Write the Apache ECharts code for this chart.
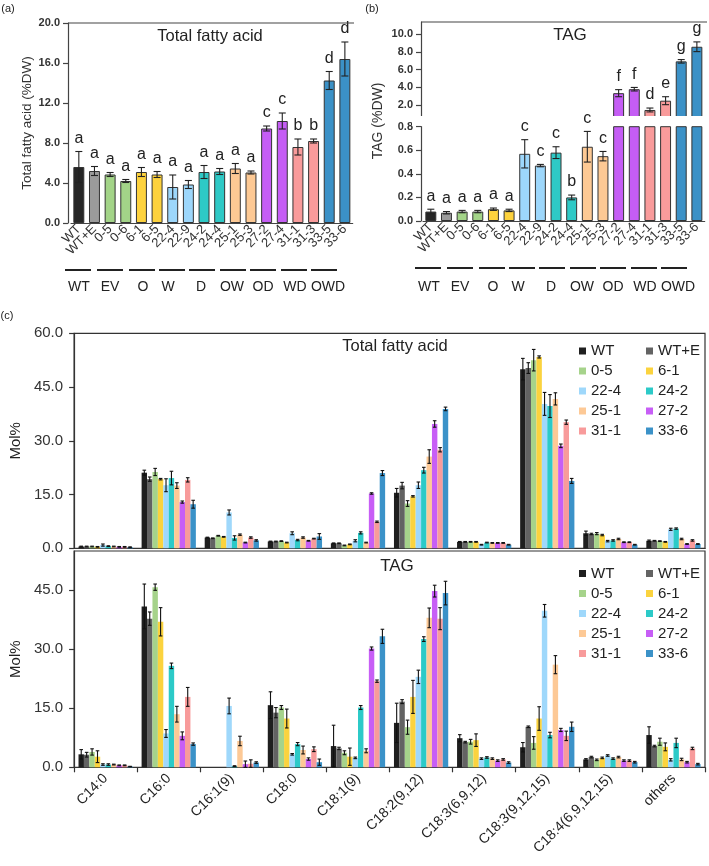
<!DOCTYPE html>
<html><head><meta charset="utf-8">
<script src="https://cdn.jsdelivr.net/npm/echarts@6/dist/echarts.min.js"></script>
<style>html,body{margin:0;padding:0;background:#fff}#c{width:709px;height:866px}</style>
</head><body><div id="c"></div>
<script>
// ---------------- DATA ----------------
const lineNames = ['WT','WT+E','0-5','0-6','6-1','6-5','22-4','22-9','24-2','24-4','25-1','25-3','27-2','27-4','31-1','31-3','33-5','33-6'];
const groupNames = ['WT','EV','O','W','D','OW','OD','WD','OWD'];
const tfaDW      = [5.6,5.2,4.85,4.2,5.1,4.85,3.6,3.85,5.1,5.15,5.45,5.05,9.45,10.2,7.6,8.2,14.25,16.4];
const tfaDWErr   = [1.55,0.45,0.2,0.15,0.45,0.3,1.2,0.4,0.65,0.3,0.5,0.15,0.25,0.8,0.8,0.2,0.9,1.7];
const tfaLetters = ['a','a','a','a','a','a','a','a','a','a','a','a','c','c','b','b','d','d'];
const tagDW      = [0.08,0.07,0.08,0.08,0.10,0.09,0.57,0.47,0.58,0.20,0.63,0.55,3.35,3.8,1.45,2.5,6.95,8.6];
const tagDWErr   = [0.02,0.01,0.01,0.01,0.01,0.01,0.12,0.01,0.05,0.02,0.13,0.04,0.4,0.2,0.22,0.45,0.2,0.55];
const tagLetters = ['a','a','a','a','a','a','c','c','c','b','c','c','f','f','d','e','g','g'];
const tfaDWTicks = [0,4,8,12,16,20];
const tagTopTicks = [2,4,6,8,10];
const tagBottomTicks = [0,0.2,0.4,0.6,0.8];

const acids = ['C14:0','C16:0','C16:1(9)','C18:0','C18:1(9)','C18:2(9,12)','C18:3(6,9,12)','C18:3(9,12,15)','C18:4(6,9,12,15)','others'];
const molLines = ['WT','WT+E','0-5','6-1','22-4','24-2','25-1','27-2','31-1','33-6'];
const molTicks = [0,15,30,45,60];
// rows: acids, columns: molLines
const tfaMol = [
 [0.5,0.5,0.5,0.4,0.9,0.6,0.5,0.4,0.4,0.3],
 [21.1,19.3,21.3,19.3,17.6,19.6,17.5,12.9,19.1,12.3],
 [3.0,2.8,3.5,3.2,10.0,2.9,3.8,1.6,3.0,2.2],
 [1.9,1.9,2.0,1.6,4.2,2.3,3.0,2.1,2.7,3.3],
 [1.4,1.4,0.8,1.1,2.1,4.3,1.6,15.3,7.4,21.0],
 [15.5,17.5,12.5,14.5,17.6,21.8,25.6,34.7,27.5,38.9],
 [1.8,1.8,1.8,1.8,1.0,1.6,1.5,1.5,1.5,1.0],
 [50.0,50.3,52.5,53.4,40.3,39.7,41.7,28.6,35.2,18.8],
 [4.2,4.0,4.1,3.7,2.0,2.2,2.6,1.7,1.7,1.0],
 [2.1,2.1,2.0,1.8,5.3,5.5,2.6,1.2,2.2,1.2]
];
const tfaMolErr = [
 [0.1,0.1,0.1,0.1,0.3,0.1,0.1,0.1,0.1,0.1],
 [0.7,0.6,1.0,0.2,1.8,1.9,0.8,0.3,0.6,1.1],
 [0.1,0.1,0.1,0.1,0.7,0.6,0.2,0.1,0.2,0.2],
 [0.1,0.1,0.1,0.1,0.4,0.2,0.2,0.1,0.1,0.8],
 [0.1,0.1,0.1,0.1,0.3,0.3,0.1,0.2,0.2,0.7],
 [1.2,0.9,0.8,0.2,0.9,0.8,1.9,0.9,0.6,0.5],
 [0.1,0.1,0.1,0.1,0.1,0.1,0.1,0.1,0.1,0.1],
 [3.0,1.5,3.0,0.3,3.2,3.2,1.7,0.5,0.6,0.7],
 [0.6,0.2,0.3,0.2,0.2,0.2,0.2,0.1,0.1,0.1],
 [0.2,0.1,0.1,0.1,0.3,0.2,0.2,0.1,0.2,0.1]
];
const tagMol = [
 [3.3,3.2,3.9,2.7,0.7,0.7,0.7,0.5,0.5,0.2],
 [40.9,37.8,45.8,37.0,8.6,25.8,13.5,8.0,17.9,5.9],
 [0,0,0,0,15.6,0.3,6.7,0.8,0.9,1.2],
 [15.8,13.9,15.2,12.4,3.3,5.9,4.4,2.1,4.6,1.3],
 [5.4,4.8,3.7,2.7,2.4,15.2,4.2,30.2,21.9,33.3],
 [11.3,16.7,10.2,17.9,23.0,32.6,38.0,44.8,37.8,44.3],
 [7.4,6.4,6.5,6.9,2.2,2.5,2.2,1.7,2.0,1.2],
 [5.1,10.3,6.2,12.4,39.8,8.2,26.1,9.5,8.0,10.3],
 [2.0,2.6,1.9,2.4,3.0,2.2,2.6,1.7,1.7,1.3],
 [8.2,5.4,6.5,5.2,1.9,6.2,2.0,1.3,4.8,0.8]
];
const tagMolErr = [
 [1.2,0.6,0.8,1.5,0.2,0.2,0.1,0.1,0.1,0.05],
 [5.7,1.7,0.8,3.6,1.0,0.7,2.0,1.0,2.4,0.3],
 [0,0,0,0,2.0,0.1,1.2,0.8,1.0,0.2],
 [3.4,1.3,0.5,2.4,0.2,0.4,1.0,0.3,0.6,0.8],
 [5.3,0.3,0.5,2.2,0.2,0.5,0.5,0.4,0.3,1.8],
 [5.0,0.5,1.8,4.2,1.7,0.6,2.5,1.5,2.8,3.0],
 [0.9,0.2,0.6,1.6,0.2,0.2,0.2,0.2,0.2,0.2],
 [1.2,0.2,1.6,3.0,1.6,0.7,2.3,0.4,1.2,1.2],
 [0.2,0.2,0.2,0.2,0.2,0.2,0.2,0.2,0.2,0.2],
 [2.1,0.2,0.9,1.0,0.3,1.2,0.3,0.2,0.3,0.2]
];

// ---------------- STYLE / LAYOUT ----------------
const FONT = '"Liberation Sans", Arial, Helvetica, sans-serif';
const AX = '#444';
const familyColor = {'WT':'#262626','WT+E':'#9b9b9b','0':'#a3d488','6':'#fdd23d','22':'#9dd7fb','24':'#2ec9c6','25':'#fdc994','27':'#c55df5','31':'#f99b9b','33':'#3b91c7'};
function abColor(n){ return familyColor[n] || familyColor[n.split('-')[0]]; }
const molColors = ['#1f1f1f','#636363','#a6d38b','#fbd33e','#9fd8fb','#2ccac8','#fdc996','#c75ef6','#f89b9b','#3b92c8'];
const groupLineStarts = [65,97,129,159,189,220,250,281,311];
const groupLabelCenters = [79,110,143,168,201,232,263,295,328];
const groupLineLen = 26;

// ---------------- HELPERS ----------------
function makeABErr(letters){
  return function(params, api){
    const i = api.value(0), v = api.value(1), e = api.value(2);
    const p = api.coord([i, v]), t = api.coord([i, v + e]), b = api.coord([i, Math.max(0, v - e)]);
    const x = p[0], w = 3.5, st = {stroke:'#222', lineWidth:1.1};
    return {type:'group', children:[
      {type:'line', shape:{x1:x,y1:t[1],x2:x,y2:b[1]}, style:st},
      {type:'line', shape:{x1:x-w,y1:t[1],x2:x+w,y2:t[1]}, style:st},
      {type:'line', shape:{x1:x-w,y1:b[1],x2:x+w,y2:b[1]}, style:st},
      {type:'text', x:x, y:t[1]-13, style:{text:letters[i], align:'center', verticalAlign:'middle', fontSize:16, fontFamily:FONT, fill:'#222'}}
    ]};
  };
}
const C_GAP = 0.14;
function makeCErr(nSeries){
  return function(params, api){
    const a = api.value(0), s = api.value(1), v = api.value(2), e = api.value(3);
    if (!(v > 0) && !(e > 0)) return null;
    const band = api.size([1, 0])[0];
    const total = band * (1 - C_GAP), bw = total / nSeries;
    const p = api.coord([a, v]);
    const x = p[0] - total / 2 + bw * (s + 0.5);
    const t = api.coord([a, v + e])[1], b = api.coord([a, Math.max(0, v - e)])[1];
    const w = 1.8, st = {stroke:'#111', lineWidth:1.1};
    return {type:'group', children:[
      {type:'line', shape:{x1:x,y1:t,x2:x,y2:b}, style:st},
      {type:'line', shape:{x1:x-w,y1:t,x2:x+w,y2:t}, style:st},
      {type:'line', shape:{x1:x-w,y1:b,x2:x+w,y2:b}, style:st}
    ]};
  };
}
function fmt1(v){ return Number(v).toFixed(1); }

// ---------------- OPTION ----------------
const abXAxis = (gi, show) => ({
  type:'category', gridIndex:gi, data:lineNames, show:show,
  axisLine:{lineStyle:{color:AX, width:1.2}}, axisTick:{show:false},
  axisLabel:{interval:0, rotate:45, fontSize:13, color:'#333', margin:4, fontFamily:FONT}
});
const abYAxisBase = {
  type:'value', splitLine:{show:false},
  axisLine:{show:true, lineStyle:{color:AX, width:1.2}},
  axisTick:{show:true, length:5, lineStyle:{color:AX, width:1.2}},
  axisLabel:{fontSize:11, fontWeight:'bold', color:'#333', margin:8, fontFamily:FONT, formatter:fmt1}
};
const cXAxis = (gi, showLabels) => ({
  type:'category', gridIndex:gi, data:acids,
  axisLine:{lineStyle:{color:'#333', width:1.2}},
  axisTick:{show:showLabels, length:5, lineStyle:{color:'#333', width:1.2}},
  axisLabel:{show:showLabels, interval:0, rotate:45, fontSize:14, color:'#222', margin:9, fontFamily:FONT}
});
const cYAxis = (gi, max, ticks) => ({
  type:'value', gridIndex:gi, min:0, max:max, interval:15, splitLine:{show:false},
  name:'Mol%', nameLocation:'middle', nameGap:44, nameTextStyle:{fontSize:15, color:'#222', fontFamily:FONT},
  axisLine:{show:true, lineStyle:{color:'#333', width:1.2}},
  axisTick:{show:true, length:5, lineStyle:{color:'#333', width:1.2}, customValues:ticks},
  axisLabel:{fontSize:15, color:'#333', margin:11, fontFamily:FONT, formatter:fmt1, customValues:ticks}
});

const series = [];
// (a)
series.push({type:'bar', xAxisIndex:0, yAxisIndex:0, barCategoryGap:'30%', z:2,
  data: tfaDW.map((v,i)=>({value:v, itemStyle:{color:abColor(lineNames[i])}})),
  itemStyle:{borderColor:'#333', borderWidth:1}});
series.push({type:'custom', xAxisIndex:0, yAxisIndex:0, z:10, renderItem:makeABErr(tfaLetters),
  encode:{x:0, y:1}, data: tfaDW.map((v,i)=>[i, v, tfaDWErr[i]])});
// (b) top segment
series.push({type:'bar', xAxisIndex:1, yAxisIndex:1, barCategoryGap:'30%', z:2,
  data: tagDW.map((v,i)=>(v > 0.8 ? {value:v, itemStyle:{color:abColor(lineNames[i])}} : '-')),
  itemStyle:{borderColor:'#333', borderWidth:1}});
series.push({type:'custom', xAxisIndex:1, yAxisIndex:1, z:10, renderItem:makeABErr(tagLetters),
  encode:{x:0, y:1}, data: tagDW.map((v,i)=>[i, v, tagDWErr[i]]).filter(d=>d[1] > 0.8)});
// (b) bottom segment
series.push({type:'bar', xAxisIndex:2, yAxisIndex:2, barCategoryGap:'30%', z:2,
  data: tagDW.map((v,i)=>({value:v, itemStyle:{color:abColor(lineNames[i])}})),
  itemStyle:{borderColor:'#333', borderWidth:1}});
series.push({type:'custom', xAxisIndex:2, yAxisIndex:2, z:10, renderItem:makeABErr(tagLetters),
  encode:{x:0, y:1}, data: tagDW.map((v,i)=>[i, v, tagDWErr[i]]).filter(d=>d[1] <= 0.8)});
// (c)
[[tfaMol, tfaMolErr, 3], [tagMol, tagMolErr, 4]].forEach(([vals, errs, ax]) => {
  molLines.forEach((name, s) => {
    series.push({type:'bar', name:name, xAxisIndex:ax, yAxisIndex:ax, barGap:'0%', barCategoryGap:(C_GAP*100)+'%', z:2,
      itemStyle:{color:molColors[s]}, data: acids.map((_,a)=>vals[a][s])});
  });
  const errData = [];
  acids.forEach((_,a)=> molLines.forEach((_,s)=> errData.push([a, s, vals[a][s], errs[a][s]])));
  series.push({type:'custom', xAxisIndex:ax, yAxisIndex:ax, z:10, renderItem:makeCErr(molLines.length),
    encode:{x:0, y:2}, data:errData});
});

const legendBase = {orient:'vertical', icon:'rect', itemWidth:7, itemHeight:7, itemGap:5, padding:0,
  textStyle:{fontSize:15, color:'#222', fontFamily:FONT}};
const col1 = molLines.filter((_,i)=>i%2===0), col2 = molLines.filter((_,i)=>i%2===1);

const graphics = [];
function txt(x, y, s, size, extra){ graphics.push(Object.assign({type:'text', x:x, y:y, z:20,
  style:{text:s, fontSize:size, fontFamily:FONT, fill:'#222', align:'center', verticalAlign:'middle'}}, extra||{})); }
txt(8, 9, '(a)', 11);
txt(372, 9, '(b)', 11);
txt(7, 316, '(c)', 11);
txt(210, 36, 'Total fatty acid', 16.5);
txt(570, 35, 'TAG', 17);
txt(395, 346, 'Total fatty acid', 16.5);
txt(397, 566, 'TAG', 17);
graphics.push({type:'text', x:378, y:121, rotation:Math.PI/2, z:20,
  style:{text:'TAG (%DW)', fontSize:14, fontFamily:FONT, fill:'#333', align:'center', verticalAlign:'middle'}});
// top frame lines
graphics.push({type:'line', z:20, shape:{x1:68,y1:23,x2:354,y2:23}, style:{stroke:AX, lineWidth:1.2}});
graphics.push({type:'line', z:20, shape:{x1:421,y1:22,x2:707,y2:22}, style:{stroke:AX, lineWidth:1.2}});
// axis break gap (b)
graphics.push({type:'rect', z:5, shape:{x:412, y:116, width:297, height:9.5}, style:{fill:'#fff'}});
// group underlines and names
[[0, 270], [350, 268]].forEach(([dx, ly]) => {
  groupNames.forEach((g, k) => {
    const x0 = groupLineStarts[k] + dx;
    graphics.push({type:'line', z:20, shape:{x1:x0, y1:ly, x2:x0+groupLineLen, y2:ly}, style:{stroke:'#222', lineWidth:2}});
    txt(groupLabelCenters[k] + dx, 287, g, 14);
  });
});

const option = {
  animation:false,
  backgroundColor:'#fff',
  textStyle:{fontFamily:FONT},
  grid:[
    {left:71, top:23, width:281.7, height:200},
    {left:423, top:22, width:281.7, height:100.8},
    {left:423, top:126.7, width:281.7, height:94.3},
    {left:67, top:333.3, width:638, height:215, show:true, borderColor:'#333', borderWidth:1.2, backgroundColor:'transparent'},
    {left:67, top:551, width:638, height:216.3, show:true, borderColor:'#333', borderWidth:1.2, backgroundColor:'transparent'}
  ],
  xAxis:[ abXAxis(0, true), abXAxis(1, false), abXAxis(2, true), cXAxis(3, false), cXAxis(4, true) ],
  yAxis:[
    Object.assign({}, abYAxisBase, {gridIndex:0, min:0, max:20, interval:4, offset:3,
      name:'Total fatty acid (%DW)', nameLocation:'middle', nameGap:34,
      nameTextStyle:{fontSize:13.5, color:'#333', fontFamily:FONT}}),
    Object.assign({}, abYAxisBase, {gridIndex:1, min:0, max:11.4, interval:2, offset:2,
      axisTick:Object.assign({}, abYAxisBase.axisTick, {customValues:tagTopTicks}),
      axisLabel:Object.assign({}, abYAxisBase.axisLabel, {customValues:tagTopTicks,
        formatter:v=> (v>=2 && v<=10 ? fmt1(v) : '')})}),
    Object.assign({}, abYAxisBase, {gridIndex:2, min:0, max:0.8, interval:0.2, offset:2,
      axisTick:Object.assign({}, abYAxisBase.axisTick, {customValues:tagBottomTicks}),
      axisLabel:Object.assign({}, abYAxisBase.axisLabel, {customValues:tagBottomTicks})}),
    cYAxis(3, 60, molTicks),
    cYAxis(4, 55, molTicks.slice(0,4))
  ],
  legend:[
    Object.assign({}, legendBase, {data:col1, left:579, top:343.5}),
    Object.assign({}, legendBase, {data:col2, left:646, top:343.5}),
    Object.assign({}, legendBase, {data:col1, left:579, top:566}),
    Object.assign({}, legendBase, {data:col2, left:646, top:566})
  ],
  graphic:graphics,
  series:series
};
const chart = echarts.init(document.getElementById('c'));
chart.setOption(option);
</script></body></html>
